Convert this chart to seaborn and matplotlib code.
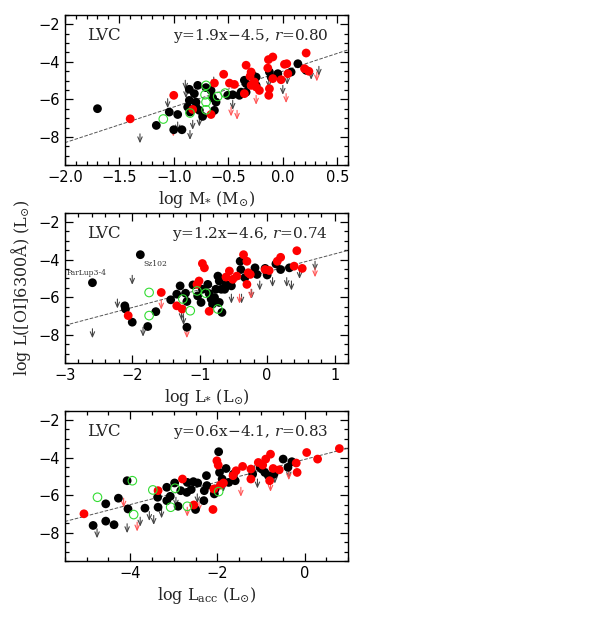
import numpy as np
import pandas as pd
import seaborn as sns
import matplotlib
matplotlib.use("Agg")
import matplotlib.pyplot as plt
from matplotlib.ticker import MultipleLocator

# ---------------- Panel 1: log M*
p1_black_x = [-1.70, -1.16, -1.00, -0.925, -0.964, -1.041, -0.857, -0.811, -0.857, -0.796, -0.851, -0.765, -0.735,
              -0.658, -0.643, -0.612, -0.627, -0.704, -0.872, -0.796, -0.780, -0.505, -0.459, -0.398, -0.382, -0.336,
              -0.352, -0.260, -0.244, -0.275, -0.336, -0.244, -0.122, -0.106, -0.045, 0.139, 0.077, 0.215]
p1_black_y = [-6.49, -7.38, -7.61, -7.61, -6.80, -6.67, -5.46, -5.69, -6.05, -6.14, -6.67, -6.58, -6.90,
              -5.52, -5.91, -6.14, -6.58, -5.37, -6.40, -6.40, -5.25, -5.78, -5.75, -5.78, -5.61, -5.61,
              -4.98, -4.89, -4.81, -4.72, -5.16, -5.25, -4.54, -4.81, -4.63, -4.10, -4.54, -4.45]
p1_red_x = [-1.40, -1.00, -0.826, -0.658, -0.627, -0.542, -0.489, -0.443, -0.352, -0.336, -0.290, -0.300, -0.290,
            -0.260, -0.244, -0.214, -0.131, -0.091, -0.137, -0.091, -0.015, 0.016, 0.037, 0.047, -0.122, -0.128,
            0.215, 0.200, 0.240]
p1_red_y = [-7.03, -5.78, -6.53, -6.80, -5.13, -4.66, -5.13, -5.20, -5.69, -4.18, -4.54, -4.77, -5.25,
            -5.07, -5.34, -5.52, -3.88, -3.74, -4.33, -4.89, -4.95, -4.13, -4.10, -4.63, -5.43, -5.78,
            -3.53, -4.36, -4.50]
p1_green_x = [-1.096, -0.704, -0.713, -0.704, -0.704, -0.597, -0.529, -0.851]
p1_green_y = [-7.04, -5.25, -5.75, -6.14, -6.55, -5.84, -5.66, -6.72]
p1_ulim_x = [-1.31, -1.056, -0.964, -0.894, -0.888, -0.851, -0.826, -0.765, -0.633, -0.459, -0.128, 0.001, 0.041, 0.261, 0.332]
p1_ulim_y = [-7.83, -5.96, -7.20, -4.98, -5.43, -7.65, -7.11, -6.94, -4.81, -6.05, -4.89, -5.25, -4.72, -4.45, -4.24]
p1_rulim_x = [-1.004, -0.474, -0.419, -0.244, 0.031, 0.313]
p1_rulim_y = [-7.47, -6.40, -6.58, -5.78, -5.69, -4.54]

# ---------------- Panel 2: log L*
p2_black_x = [-2.59, -1.88, -2.11, -2.10, -2.00, -1.77, -1.65, -1.43, -1.29, -1.21, -1.19, -1.10, -1.03, -0.98,
              -0.96, -0.88, -0.86, -0.83, -0.81, -0.78, -0.73, -0.71, -0.76, -0.68, -0.67, -0.63, -0.61, -0.71,
              -1.19, -0.40, -0.39, -0.33, -0.18, -0.15, -0.03, 0.00, 0.13, 0.20, 0.33, -0.53, -1.34]
p2_black_y = [-5.23, -3.74, -6.46, -6.63, -7.33, -7.56, -6.77, -6.14, -5.40, -5.79, -6.23, -5.35, -5.93, -6.28,
              -5.58, -5.32, -5.81, -6.10, -6.37, -6.02, -4.88, -5.14, -5.58, -5.58, -6.81, -5.58, -5.32, -6.28,
              -7.60, -4.09, -4.53, -4.96, -4.44, -4.79, -4.47, -4.82, -4.23, -4.53, -4.44, -5.40, -5.84]
p2_red_x = [-2.06, -1.57, -1.34, -1.26, -0.96, -0.93, -1.01, -1.04, -0.86, -0.61, -0.56, -0.51, -0.45, -0.35,
            -0.30, -0.28, -0.25, -0.30, -0.03, 0.03, 0.15, 0.20, 0.40, 0.44, 0.52]
p2_red_y = [-6.98, -5.75, -6.46, -6.63, -4.21, -4.44, -5.14, -5.32, -6.75, -4.93, -4.61, -5.05, -4.88, -3.74,
            -4.09, -4.70, -4.79, -5.32, -4.53, -4.58, -4.09, -3.88, -4.35, -3.53, -4.47]
p2_green_x = [-1.75, -1.75, -1.25, -1.14, -1.04, -0.91, -0.73]
p2_green_y = [-5.75, -6.98, -6.10, -6.72, -5.67, -5.79, -6.63]
p2_ulim_x = [-2.59, -2.22, -2.00, -1.84, -1.27, -1.24, -0.53, -0.38, -0.23, -0.11, 0.08, 0.29, 0.36, 0.48, 0.71]
p2_ulim_y = [-7.68, -6.10, -4.84, -7.60, -6.72, -6.98, -5.84, -5.84, -5.58, -5.14, -4.96, -4.96, -5.14, -4.53, -4.09]
p2_rulim_x = [-1.57, -1.19, -0.41, -0.24, 0.71]
p2_rulim_y = [-6.16, -7.68, -5.84, -5.58, -4.44]

# ---------------- Panel 3: log Lacc
p3_black_x = [-4.85, -4.56, -4.56, -4.37, -4.27, -4.07, -4.05, -3.66, -3.37, -3.36, -3.16, -3.16, -3.08, -2.98,
              -2.90, -2.84, -2.70, -2.69, -2.60, -2.55, -2.45, -2.31, -2.30, -2.25, -2.24, -2.07, -2.05, -1.97,
              -1.95, -1.89, -1.80, -1.74, -2.50, -1.63, -1.59, -1.19, -1.02, -0.98, -0.91, -0.83, -0.70, -0.49,
              -0.38, -0.29]
p3_black_y = [-7.61, -6.46, -7.38, -7.57, -6.16, -5.23, -6.73, -6.69, -6.11, -6.64, -5.58, -6.29, -6.06, -5.35,
              -6.59, -5.76, -5.85, -5.32, -5.70, -5.28, -5.35, -6.29, -5.76, -4.96, -5.49, -5.93, -5.67, -3.69,
              -4.79, -5.14, -4.58, -5.32, -6.76, -4.88, -5.23, -4.88, -4.52, -4.61, -4.79, -4.96, -4.88, -4.08,
              -4.52, -4.22]
p3_red_x = [-5.06, -3.36, -2.80, -2.54, -2.10, -2.08, -2.01, -1.98, -1.93, -1.86, -1.64, -1.57, -1.42, -1.23,
            -1.23, -1.06, -0.96, -0.89, -0.78, -0.72, -0.58, -0.19, -0.17, 0.05, 0.30, 0.80, -0.80]
p3_red_y = [-6.99, -5.76, -5.14, -6.52, -6.76, -5.67, -4.17, -4.40, -5.46, -5.35, -4.96, -4.70, -4.47, -4.61,
            -5.14, -4.26, -4.40, -4.08, -3.82, -4.58, -4.65, -4.29, -4.79, -3.73, -4.08, -3.52, -5.23]
p3_green_x = [-4.75, -3.95, -3.92, -3.48, -3.07, -2.97, -2.69, -1.97]
p3_green_y = [-6.11, -5.23, -7.03, -5.72, -6.64, -5.63, -6.59, -5.81]
p3_ulim_x = [-4.76, -4.07, -3.77, -3.56, -3.46, -3.28, -2.95, -2.46, -1.86, -1.69, -1.15, -1.08, -0.68, -0.36]
p3_ulim_y = [-7.79, -7.52, -7.17, -6.87, -7.08, -6.73, -6.11, -5.93, -5.32, -5.05, -4.43, -5.14, -4.88, -4.61]
p3_rulim_x = [-4.15, -3.84, -2.69, -2.42, -1.46, -0.78, -0.36]
p3_rulim_y = [-6.16, -7.43, -6.64, -6.37, -5.58, -5.32, -4.70]

# fits as drawn (slope, intercept) and their labels
fit_lines = [(1.9, -4.5), (0.95, -4.65), (0.6, -4.1)]
fit_texts = ["y=1.9x\u22124.5, $r$=0.80", "y=1.2x\u22124.6, $r$=0.74", "y=0.6x\u22124.1, $r$=0.83"]
xlims = [(-2, 0.6), (-3, 1.2), (-5.5, 1.0)]
xmajor = [0.5, 1, 2]
xminor = [0.1, 0.2, 0.5]
xlabels = [r"log M$_{*}$ (M$_{\odot}$)", r"log L$_{*}$ (L$_{\odot}$)", r"log L$_{\rm acc}$ (L$_{\odot}$)"]
ylabel = r"log L([OI]6300$\rm\AA$) (L$_{\odot}$)"
annot_names = ["ParLup3-4", "Sz102"]
annot_x = [-2.98, -1.84]
annot_y = [-4.95, -4.45]
ulim_len = 0.5

sns.set_theme(style="ticks")
plt.rcParams["font.family"] = ["DejaVu Sans"]
plt.rcParams["mathtext.fontset"] = "dejavuserif"

fig = plt.figure(figsize=(5.89, 6.19), dpi=100)
left, width = 0.110, 0.481
bottoms = [0.733, 0.4136, 0.0937]
height = 0.243

panels = [
    (p1_black_x, p1_black_y, p1_red_x, p1_red_y, p1_green_x, p1_green_y, p1_ulim_x, p1_ulim_y, p1_rulim_x, p1_rulim_y),
    (p2_black_x, p2_black_y, p2_red_x, p2_red_y, p2_green_x, p2_green_y, p2_ulim_x, p2_ulim_y, p2_rulim_x, p2_rulim_y),
    (p3_black_x, p3_black_y, p3_red_x, p3_red_y, p3_green_x, p3_green_y, p3_ulim_x, p3_ulim_y, p3_rulim_x, p3_rulim_y),
]

serif = ["DejaVu Serif"]
arrow_style = "->,head_length=0.3,head_width=0.13"
axes = []
for i, (bx, by, rx, ry, gx, gy, ux, uy, rux, ruy) in enumerate(panels):
    ax = fig.add_axes([left, bottoms[i], width, height])
    axes.append(ax)
    ax.set_xlim(*xlims[i])
    ax.set_ylim(-9.5, -1.5)
    # fit line
    xs = np.array(xlims[i])
    m, b = fit_lines[i]
    sns.lineplot(x=xs, y=m * xs + b, ax=ax, color="#555555", lw=0.7, dashes=(9, 6), linestyle="--")
    # upper limits
    for xx, yy in zip(ux, uy):
        ax.annotate("", xy=(xx, yy - ulim_len), xytext=(xx, yy),
                    arrowprops=dict(arrowstyle=arrow_style, color="#444444", lw=0.8, shrinkA=0, shrinkB=0))
    for xx, yy in zip(rux, ruy):
        ax.annotate("", xy=(xx, yy - ulim_len), xytext=(xx, yy),
                    arrowprops=dict(arrowstyle=arrow_style, color="#ff5555", lw=0.8, shrinkA=0, shrinkB=0))
    sns.scatterplot(x=bx, y=by, ax=ax, color="black", s=40, edgecolor="none", zorder=3)
    sns.scatterplot(x=rx, y=ry, ax=ax, color="#ff0000", s=40, edgecolor="none", zorder=3)
    sns.scatterplot(x=gx, y=gy, ax=ax, s=38, facecolor="none", edgecolor="#33dd33", linewidth=0.8, zorder=4)

    ax.xaxis.set_major_locator(MultipleLocator(xmajor[i]))
    ax.xaxis.set_minor_locator(MultipleLocator(xminor[i]))
    ax.yaxis.set_major_locator(MultipleLocator(2))
    ax.yaxis.set_minor_locator(MultipleLocator(0.5))
    ax.tick_params(which="both", direction="in", top=True, right=True, labelsize=10.5, colors="black")
    ax.tick_params(which="major", length=6, width=0.9)
    ax.tick_params(which="minor", length=3, width=0.9)
    for sp in ax.spines.values():
        sp.set_linewidth(1.0)
        sp.set_color("black")
    ax.set_xlabel(xlabels[i], fontsize=11.5, family=serif, labelpad=3)
    ax.set_ylabel("")
    ax.text(0.08, 0.86, "LVC", transform=ax.transAxes, fontsize=12, family=serif, va="center")
    ax.text(0.93, 0.86, fit_texts[i], transform=ax.transAxes, fontsize=11, family=serif, ha="right", va="center")

for name, xx, yy in zip(annot_names, annot_x, annot_y):
    axes[1].text(xx, yy, name, fontsize=5.5, family=serif, color="#333333", va="bottom")

axes[1].set_ylabel(ylabel, fontsize=11.5, family=serif, labelpad=4)

fig.savefig("out.png", dpi=100)
